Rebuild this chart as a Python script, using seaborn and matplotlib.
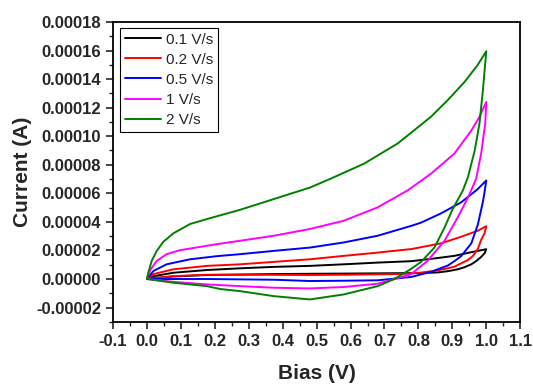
import numpy as np
import pandas as pd
import matplotlib
matplotlib.use("Agg")
import matplotlib.pyplot as plt
from matplotlib.ticker import MultipleLocator, FormatStrFormatter
import seaborn as sns

# Cyclic scans: forward from 0 V to 1 V then back to 0 V. Current in units of 1e-5 A.
labels = ["0.1 V/s", "0.2 V/s", "0.5 V/s", "1 V/s", "2 V/s"]
colors = ["#000000", "#ff0000", "#0000ff", "#ff00ff", "#008000"]

bias_01 = [0, 0.02, 0.078, 0.177, 0.275, 0.374, 0.48, 0.58, 0.68, 0.78, 0.85, 0.906, 0.95, 1.0,
           0.995, 0.985, 0.97, 0.956, 0.935, 0.916, 0.887, 0.857, 0.808, 0.7, 0.58, 0.38,
           0.177, 0.078, 0.02, 0]
curr_01 = [0, 0.2, 0.44, 0.63, 0.75, 0.85, 0.92, 1.03, 1.15, 1.25, 1.45, 1.62, 1.85, 2.09,
           1.8, 1.55, 1.25, 1.03, 0.82, 0.68, 0.55, 0.46, 0.42, 0.4, 0.38, 0.35,
           0.28, 0.18, 0.06, 0]

bias_02 = [0, 0.02, 0.078, 0.177, 0.275, 0.374, 0.48, 0.58, 0.68, 0.78, 0.867, 0.926, 0.975, 1.0,
           0.995, 0.985, 0.975, 0.96, 0.946, 0.926, 0.906, 0.857, 0.808, 0.75, 0.58, 0.48,
           0.3, 0.177, 0.078, 0]
curr_02 = [0, 0.35, 0.68, 0.92, 1.03, 1.2, 1.38, 1.62, 1.85, 2.1, 2.5, 2.96, 3.38, 3.7,
           3.2, 2.75, 2.1, 1.6, 1.33, 1.1, 0.86, 0.6, 0.45, 0.35, 0.3, 0.28,
           0.3, 0.3, 0.2, 0]

bias_05 = [0, 0.019, 0.058, 0.127, 0.206, 0.275, 0.374, 0.48, 0.58, 0.68, 0.78, 0.808, 0.867,
           0.926, 0.975, 1.0,
           0.995, 0.99, 0.975, 0.956, 0.926, 0.906, 0.887, 0.857, 0.837, 0.778, 0.68, 0.58,
           0.48, 0.374, 0.177, 0.078, 0]
curr_05 = [0, 0.56, 1.03, 1.38, 1.6, 1.74, 1.97, 2.2, 2.56, 3.03, 3.73, 3.95, 4.6,
           5.37, 6.3, 6.9,
           6.1, 5.4, 3.8, 2.5, 1.6, 1.25, 0.95, 0.68, 0.5, 0.14, -0.09, -0.12,
           -0.14, -0.05, 0.0, 0.0, 0]

bias_1 = [0, 0.009, 0.029, 0.058, 0.098, 0.206, 0.275, 0.374, 0.48, 0.58, 0.68, 0.768, 0.837,
          0.906, 0.956, 0.98, 1.0,
          0.997, 0.985, 0.97, 0.946, 0.916, 0.877, 0.827, 0.778, 0.729, 0.68, 0.58,
          0.48, 0.374, 0.275, 0.177, 0.078, 0]
curr_1 = [0, 0.6, 1.27, 1.74, 2.02, 2.44, 2.68, 3.03, 3.5, 4.08, 5.02, 6.2, 7.37,
          8.78, 10.4, 11.36, 12.4,
          10.9, 8.8, 7.0, 5.7, 4.32, 2.68, 1.27, 0.33, 0.0, -0.33, -0.56,
          -0.66, -0.61, -0.5, -0.38, -0.2, 0]

bias_2 = [0, 0.004, 0.014, 0.029, 0.048, 0.078, 0.127, 0.177, 0.275, 0.374, 0.48, 0.541, 0.64,
          0.739, 0.837, 0.887, 0.936, 0.975, 1.0,
          0.99, 0.98, 0.966, 0.946, 0.931, 0.901, 0.877, 0.847, 0.808, 0.778, 0.729,
          0.68, 0.58, 0.48, 0.374, 0.275, 0.216, 0.177, 0.078, 0]
curr_2 = [0, 0.44, 1.27, 1.97, 2.6, 3.2, 3.85, 4.2, 4.85, 5.6, 6.4, 7.02, 8.08,
          9.49, 11.36, 12.54, 13.8, 15.0, 15.95,
          13.2, 10.9, 9.0, 7.13, 6.2, 4.9, 3.6, 2.2, 1.2, 0.7, 0.0,
          -0.5, -1.08, -1.43, -1.2, -0.85, -0.7, -0.5, -0.26, 0]

bias_all = [bias_01, bias_02, bias_05, bias_1, bias_2]
curr_all = [curr_01, curr_02, curr_05, curr_1, curr_2]

frames = []
for lab, b, c in zip(labels, bias_all, curr_all):
    frames.append(pd.DataFrame({"Bias": b, "Current": np.array(c) * 1e-5, "rate": lab}))
df = pd.concat(frames, ignore_index=True)

sns.set_style("ticks")
plt.rcParams["font.family"] = ["Liberation Sans", "DejaVu Sans"]

fig = plt.figure(figsize=(5.33, 3.85), dpi=100)
ax = fig.add_axes([0.212, 0.164, 0.764, 0.779])

sns.lineplot(data=df, x="Bias", y="Current", hue="rate", hue_order=labels,
             palette=dict(zip(labels, colors)), sort=False, estimator=None,
             linewidth=1.4, ax=ax)
for ln in ax.get_lines():
    ln.set_solid_joinstyle("round")

ax.set_xlim(-0.1, 1.1)
ax.set_ylim(-0.00003, 0.00018)
ax.xaxis.set_major_locator(MultipleLocator(0.1))
ax.xaxis.set_minor_locator(MultipleLocator(0.05))
ax.yaxis.set_major_locator(MultipleLocator(0.00002))
ax.yaxis.set_minor_locator(MultipleLocator(0.00001))
ax.xaxis.set_major_formatter(FormatStrFormatter("%.1f"))
ax.yaxis.set_major_formatter(FormatStrFormatter("%.5f"))

ax.tick_params(which="major", direction="out", length=5, width=1.2, labelsize=12)
ax.tick_params(which="minor", direction="out", length=3, width=1.0)
for t in ax.get_xticklabels() + ax.get_yticklabels():
    t.set_fontweight("bold")
for s in ax.spines.values():
    s.set_visible(True)
    s.set_linewidth(1.3)
    s.set_color("black")

ax.set_xlabel("Bias (V)", fontsize=15, fontweight="bold", labelpad=11)
ax.set_ylabel("Current (A)", fontsize=15, fontweight="bold", labelpad=3)

h, l = ax.get_legend_handles_labels()
leg = ax.legend(h, l, loc="upper left", bbox_to_anchor=(0.017, 0.98), fontsize=11,
                frameon=True, fancybox=False, edgecolor="black", framealpha=1,
                handlelength=2.4, handletextpad=0.3, labelspacing=0.4, borderpad=0.3,
                borderaxespad=0)
leg.get_frame().set_linewidth(0.8)

fig.savefig("out.png", dpi=100)
